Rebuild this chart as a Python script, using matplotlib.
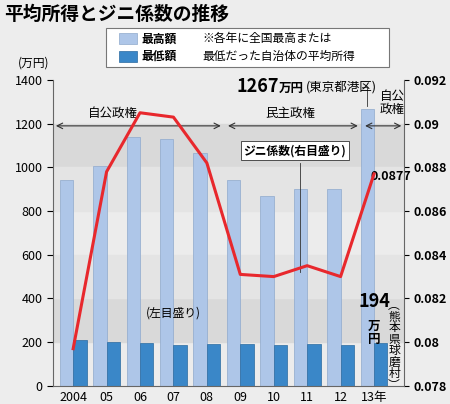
import matplotlib
matplotlib.use("Agg")
import matplotlib.pyplot as plt
import numpy as np

plt.rcParams['font.family'] = ['Noto Sans CJK JP', 'DejaVu Sans']

years = ['2004', '05', '06', '07', '08', '09', '10', '11', '12', '13年']
max_income = [940, 1005, 1140, 1130, 1065, 940, 870, 900, 900, 1267]
min_income = [210, 200, 195, 185, 190, 190, 188, 190, 188, 194]
gini = [0.0797, 0.0878, 0.0905, 0.0903, 0.0882, 0.0831, 0.0830, 0.0835, 0.0830, 0.0877]

bg = '#ededed'
fig = plt.figure(figsize=(4.5, 4.04), dpi=100, facecolor=bg)
ax = fig.add_axes([0.118, 0.045, 0.78, 0.757])
ax.set_facecolor('#ececec')
x = np.arange(len(years))
ax.set_xlim(-0.6, len(years) - 0.1)
ax.set_ylim(0, 1400)
for lo, hi in [(200, 400), (1000, 1200)]:
    ax.axhspan(lo, hi, color='#d9d9d9', zorder=0)
for lo, hi in [(400, 600), (800, 1000)]:
    ax.axhspan(lo, hi, color='#e4e4e4', zorder=0)
w = 0.4
ax.bar(x - w / 2, max_income, w, color='#aec6e8', edgecolor='#8fa9cc', lw=0.5, zorder=2)
ax.bar(x + w / 2, min_income, w, color='#3a87c8', edgecolor='#2a6aa0', lw=0.5, zorder=2)
ax.set_xticks(x)
ax.set_xticklabels(years, fontsize=9)
ax.set_yticks(range(0, 1401, 200))
ax.tick_params(axis='y', labelsize=9, length=4)
ax.tick_params(axis='x', length=0)
ax.spines['top'].set_visible(False)
ax.spines['right'].set_visible(False)
for s in ['left', 'bottom']:
    ax.spines[s].set_color('#666')

ax2 = ax.twinx()
ax2.set_ylim(0.078, 0.092)
ax2.set_yticks([0.078, 0.08, 0.082, 0.084, 0.086, 0.088, 0.09, 0.092])
ax2.set_yticklabels(['0.078', '0.08', '0.082', '0.084', '0.086', '0.088', '0.09', '0.092'],
                    fontsize=9, fontweight='bold')
ax2.plot(x, gini, color='#e8282d', lw=2.2, zorder=5)
for s in ['top', 'left', 'bottom']:
    ax2.spines[s].set_visible(False)
ax2.spines['right'].set_color('#666')

ax.annotate('', xy=(-0.6, 1190), xytext=(4.5, 1190),
            arrowprops=dict(arrowstyle='<->', color='#333', lw=0.8))
ax.annotate('', xy=(4.55, 1190), xytext=(8.6, 1190),
            arrowprops=dict(arrowstyle='<->', color='#333', lw=0.8))
ax.annotate('', xy=(8.65, 1190), xytext=(9.9, 1190),
            arrowprops=dict(arrowstyle='<->', color='#333', lw=0.8))
ax.text(1.2, 1230, '自公政権', fontsize=9, ha='center')
ax.text(6.5, 1230, '民主政権', fontsize=9, ha='center')
ax.text(9.55, 1250, '自公\n政権', fontsize=9, ha='center', linespacing=1.0)
ax.annotate('1267', xy=(4.9, 1370), fontsize=13, fontweight='bold', ha='left', va='center')
ax.text(6.15, 1362, '万円', fontsize=9, fontweight='bold', ha='left', va='center')
ax.text(6.95, 1370, '(東京都港区)', fontsize=9, ha='left', va='center')
ax.plot([8.65, 8.8, 8.8], [1370, 1370, 1280], color='#333', lw=0.6)
ax.text(5.1, 1060, 'ジニ係数(右目盛り)', fontsize=8.5, fontweight='bold',
        bbox=dict(fc='white', ec='#333', lw=0.6, pad=2))
ax.plot([6.8, 6.8], [1020, 520], color='#333', lw=0.6, zorder=6)
ax.text(8.9, 940, '0.0877', fontsize=9, fontweight='bold', ha='left')
ax.text(3.0, 315, '(左目盛り)', fontsize=8.5, ha='center')
ax.text(9.0, 360, '194', fontsize=13, fontweight='bold', ha='center')
ax.text(9.0, 300, '万\n円', fontsize=9, fontweight='bold', ha='center', va='top', linespacing=0.95)
ax.text(9.6, 400, '︵\n熊\n本\n県\n球\n磨\n村\n︶', fontsize=8.5, ha='center', va='top', linespacing=0.85)
fig.text(0.075, 0.845, '(万円)', fontsize=8.5, ha='center', va='center')

fig.text(0.01, 0.965, '平均所得とジニ係数の推移', fontsize=13.5, fontweight='bold', va='center')
fig.patches.append(plt.Rectangle((0.235, 0.835), 0.63, 0.095, transform=fig.transFigure,
                                 fc='white', ec='#777', lw=0.8))
fig.patches.append(plt.Rectangle((0.265, 0.89), 0.04, 0.028, transform=fig.transFigure,
                                 fc='#aec6e8', ec='#8fa9cc', lw=0.5))
fig.patches.append(plt.Rectangle((0.265, 0.847), 0.04, 0.028, transform=fig.transFigure,
                                 fc='#3a87c8', ec='#2a6aa0', lw=0.5))
fig.text(0.315, 0.904, '最高額', fontsize=8.5, fontweight='bold', va='center')
fig.text(0.315, 0.861, '最低額', fontsize=8.5, fontweight='bold', va='center')
fig.text(0.45, 0.904, '※各年に全国最高または', fontsize=8.5, va='center')
fig.text(0.45, 0.861, '最低だった自治体の平均所得', fontsize=8.5, va='center')

fig.savefig('out.png', dpi=100, facecolor=bg)
